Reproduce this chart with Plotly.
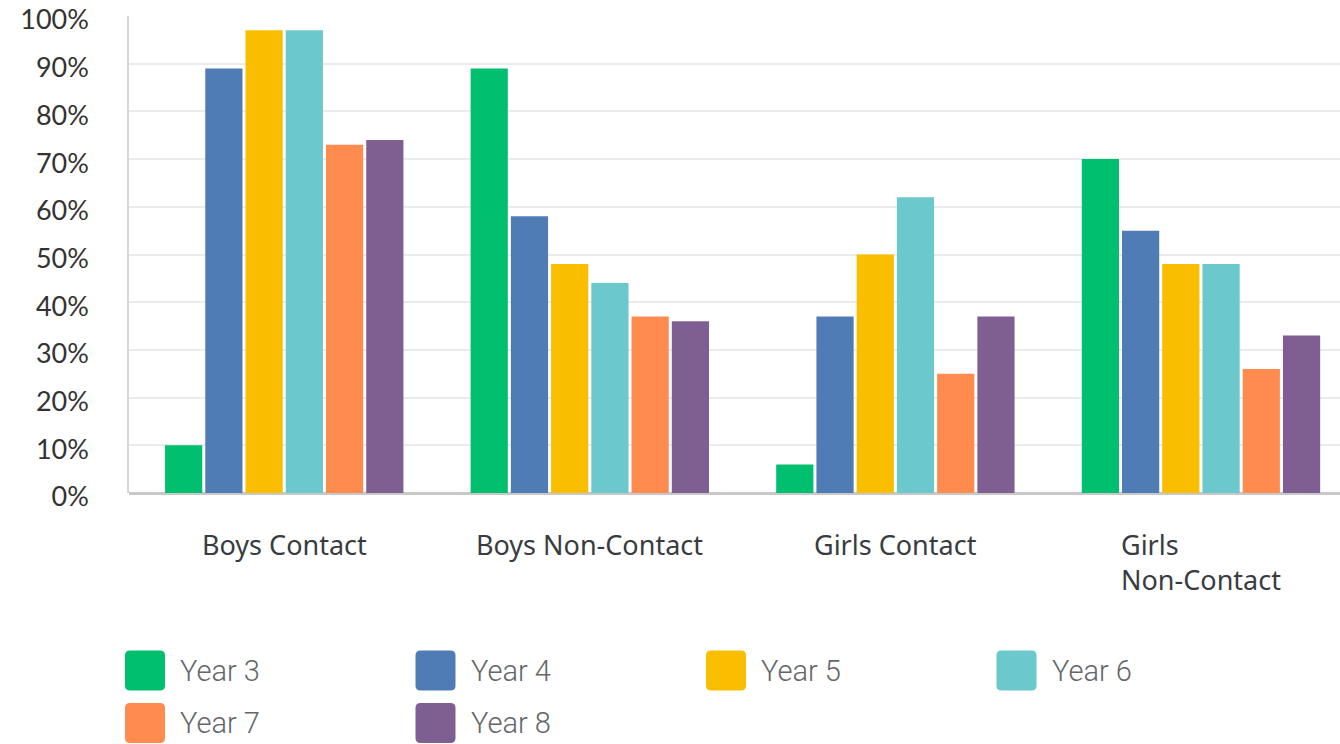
import plotly.graph_objects as go

# --- data ---
categories = ["Boys Contact", "Boys Non-Contact", "Girls Contact", "Girls<br>Non-Contact"]
series_names = ["Year 3", "Year 4", "Year 5", "Year 6", "Year 7", "Year 8"]
year_3 = [10, 89, 6, 70]
year_4 = [89, 58, 37, 55]
year_5 = [97, 48, 50, 48]
year_6 = [97, 44, 62, 48]
year_7 = [73, 37, 25, 26]
year_8 = [74, 36, 37, 33]
y_ticks = list(range(0, 101, 10))
y_tick_labels = [f"{v}%" for v in y_ticks]

series_values = [year_3, year_4, year_5, year_6, year_7, year_8]
colors = ["#00BF6F", "#507CB6", "#F9BE00", "#6BC8CD", "#FF8B4F", "#7F5F91"]

# page body margin is zeroed below, so figure pixels == window pixels
W, H = 1340, 744
plot_left, plot_top, plot_bottom, plot_right = 129, 16, 493, 1340
plot_w = plot_right - plot_left
plot_h = plot_bottom - plot_top

fig = go.Figure()
for name, vals, col in zip(series_names, series_values, colors):
    fig.add_trace(
        go.Bar(
            x=list(range(len(categories))),
            y=vals,
            name=name,
            marker=dict(color=col, line=dict(width=0)),
            showlegend=False,
            hovertemplate=name + ": %{y}%<extra></extra>",
        )
    )

# category labels (last one is two lines, left aligned)
annotations = []
for i, cat in enumerate(categories):
    annotations.append(
        dict(
            x=i, xref="x", y=0, yref="paper",
            yanchor="top", xanchor="center", yshift=-31,
            text=cat, showarrow=False, align="left",
            font=dict(family="Noto Sans", size=27, color="#383c41"),
        )
    )

# custom legend: big rounded swatches in a 4-column grid
shapes = []
for i, (name, col) in enumerate(zip(series_names, colors)):
    r, c = divmod(i, 4)
    cx = 145 + c * 290.5
    cy = 670.5 + r * 52.5
    xp = (cx - plot_left) / plot_w
    yp = (plot_bottom - cy) / plot_h
    s, k = 20, 5
    path = (
        f"M{-s + k},{-s} L{s - k},{-s} Q{s},{-s} {s},{-s + k} "
        f"L{s},{s - k} Q{s},{s} {s - k},{s} L{-s + k},{s} "
        f"Q{-s},{s} {-s},{s - k} L{-s},{-s + k} Q{-s},{-s} {-s + k},{-s} Z"
    )
    shapes.append(
        dict(
            type="path", xref="paper", yref="paper",
            xsizemode="pixel", ysizemode="pixel",
            xanchor=xp, yanchor=yp, path=path,
            fillcolor=col, line=dict(width=0),
        )
    )
    annotations.append(
        dict(
            x=(cx + 33 - plot_left) / plot_w, xref="paper", y=yp, yref="paper",
            xanchor="left", yanchor="middle",
            text=name, showarrow=False,
            font=dict(family="Roboto", size=29, color="#63666a", weight=300),
        )
    )

fig.update_layout(
    width=W,
    height=H,
    margin=dict(l=plot_left, r=W - plot_right, t=plot_top, b=H - plot_bottom,
                pad=0, autoexpand=False),
    paper_bgcolor="white",
    plot_bgcolor="white",
    barmode="group",
    bargap=0.21,
    bargroupgap=0.075,
    annotations=annotations,
    shapes=shapes,
    showlegend=False,
)
fig.update_xaxes(
    range=[-0.508, 3.455],
    showticklabels=False,
    showgrid=False,
    zeroline=False,
    showline=False,
    fixedrange=True,
)
fig.update_yaxes(
    range=[0, 100],
    tickmode="array",
    tickvals=y_ticks,
    ticktext=y_tick_labels,
    ticks="",
    ticklabelstandoff=33,
    ticklabelshift=4,
    ticklabeloverflow="allow",
    tickfont=dict(family="Lato", size=27, color="#333333"),
    showgrid=True,
    gridcolor="#ebebeb",
    gridwidth=1.5,
    zeroline=True,
    zerolinecolor="#c8c8c8",
    zerolinewidth=2.5,
    showline=True,
    linecolor="#d6d6d6",
    linewidth=1.5,
    fixedrange=True,
)

fig.write_html(
    "out.html",
    config={"displayModeBar": False},
    post_script="document.body.style.margin='0px';",
)
